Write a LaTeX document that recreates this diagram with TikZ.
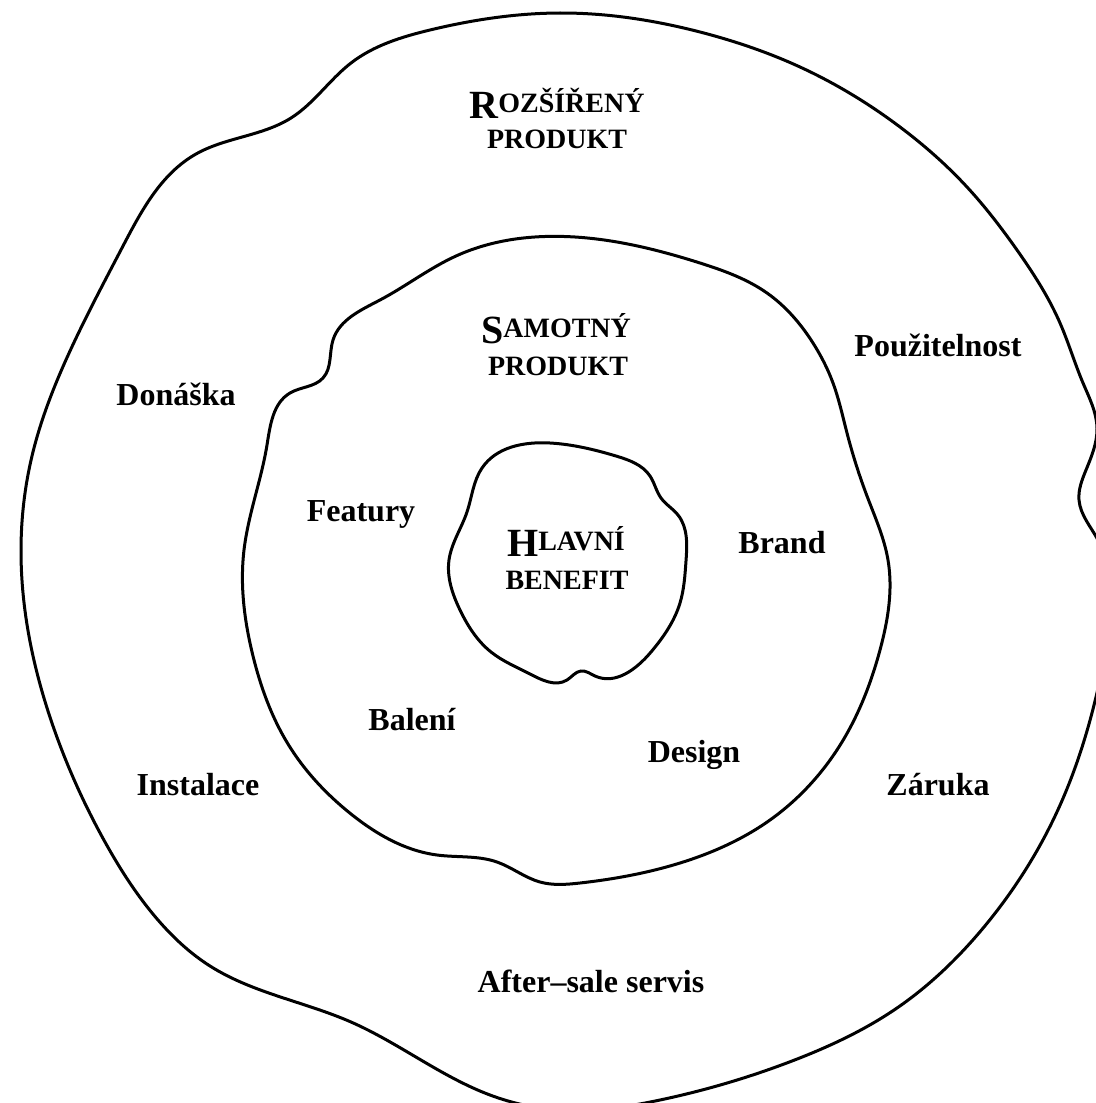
\documentclass[tikz,border=0pt]{standalone}
\usepackage{fontspec}
\setmainfont{Liberation Serif}
\usetikzlibrary{positioning, hobby}

\newcommand{\initcap}[1]{\raisebox{-3pt}{\fontsize{20}{20}\selectfont #1}}

\begin{document}
\begin{tikzpicture}[x=0.5pt, y=-0.5pt,
                    ring/.style={line width=1.5pt, closed hobby},
                    item/.style={anchor=base, font=\fontsize{16}{18}\selectfont\bfseries},
                    heading/.style={anchor=base, font=\fontsize{14}{16}\selectfont\bfseries}]
  \useasboundingbox (0,0) rectangle (1096,1103);
  % the three layers
  \begin{scope}
    \clip (0,0) rectangle (1096,1103);
    \draw[ring] plot coordinates {(560,13) (700,32) (800,67) (900,127) (967,187) (1017,250)
      (1060,323) (1083,383) (1097,428) (1086,470) (1079,500) (1098,540) (1110,610) (1099,684)
      (1056,814) (984,927) (897,1008) (792,1061) (660,1100) (560,1110) (490,1095)
      (351,1022) (210,966) (158,920) (105,842) (53,726) (21,550) (32,456)
      (70,351) (123,246) (196,154) (291,118) (351,63) (430,30)};
  \end{scope}
  \draw[ring] plot coordinates {(575,237) (700,263) (767,293) (813,343) (833,383)
    (847,433) (867,496) (888,560) (880,650) (842,742) (770,820) (680,863) (580,883)
    (540,882) (497,862) (437,855) (351,814) (288,744) (253,656)
    (244,550) (267,445) (290,393) (323,378) (333,340) (380,300) (456,256)};
  \draw[ring] plot coordinates {(550,443) (616,456) (650,476) (661,498) (678,515)
    (686,561) (680,603) (651,652) (595,676) (581,671) (567,680) (530,674)
    (491,652) (460,610) (449,560) (467,512) (482,468)};

  % headings
  \node[heading] (rozsireny) at (557,112) {\initcap{R}OZŠÍŘENÝ};
  \node[heading] (rozsirenyb) at (557,148) {PRODUKT};
  \node[heading] (samotny) at (556,337) {\initcap{S}AMOTNÝ};
  \node[heading] (samotnyb) at (558,375) {PRODUKT};
  \node[heading] (hlavni) at (566,550) {\initcap{H}LAVNÍ};
  \node[heading] (hlavnib) at (567,589) {BENEFIT};

  % items
  \node[item] (pouzitelnost) at (938,356) {Použitelnost};
  \node[item] (donaska) at (176,405) {Donáška};
  \node[item] (featury) at (361,521) {Featury};
  \node[item] (brand) at (782,553) {Brand};
  \node[item] (baleni) at (412,730) {Balení};
  \node[item] (design) at (694,762) {Design};
  \node[item] (instalace) at (198,795) {Instalace};
  \node[item] (zaruka) at (938,795) {Záruka};
  \node[item] (servis) at (591,992) {After–sale servis};
\end{tikzpicture}
\end{document}
